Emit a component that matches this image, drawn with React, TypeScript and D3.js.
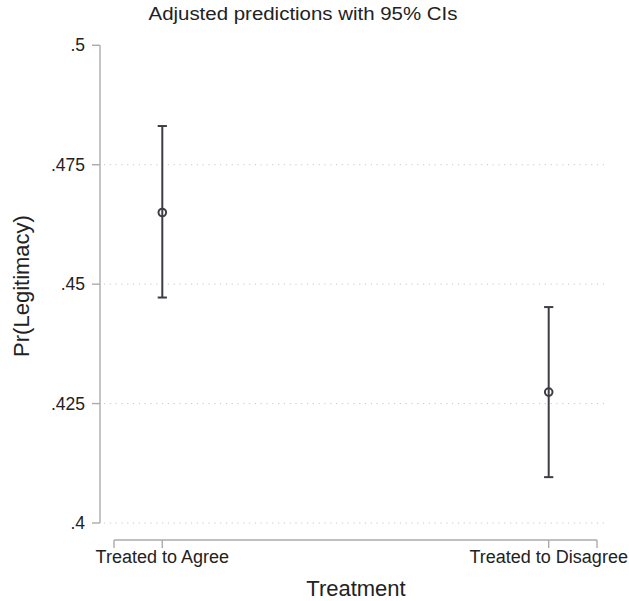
import React from "react";
import * as d3 from "d3";

const categories = ["Treated to Agree", "Treated to Disagree"];
const categoryPositions = [1, 2];
const estimates = [0.465, 0.4274];
const lowerCI = [0.4472, 0.4096];
const upperCI = [0.4831, 0.4452];
const yTicks = [0.4, 0.425, 0.45, 0.475, 0.5];
const yTickLabels = [".4", ".425", ".45", ".475", ".5"];
const gridTicks = [0.4, 0.425, 0.45, 0.475];
const xEndTicks = [0.875, 2.125];

const W = 629;
const H = 601;

export default function App() {
  const x = d3.scaleLinear().domain([0.875, 2.125]).range([114, 597]);
  const y = d3.scaleLinear().domain([0.4, 0.5]).range([523, 45.3]);
  const axisColor = "#ababab";
  const markColor = "#3d3d45";
  const textColor = "#222";
  const font = "'Liberation Sans', Arial, Helvetica, sans-serif";
  const xAxisY = 540;
  const yAxisX = 100;
  const capHalf = 4.6;

  return (
    <svg
      width={W}
      height={H}
      style={{ position: "absolute", left: 0, top: 0, background: "#fff" }}
      fontFamily={font}
    >
      <rect x={0} y={0} width={W} height={H} fill="#fff" />
      {/* title */}
      <text x={303} y={20} textAnchor="middle" fontSize={18} fill={textColor} textLength={309} lengthAdjust="spacingAndGlyphs">
        Adjusted predictions with 95% CIs
      </text>

      {/* grid lines */}
      {gridTicks.map((t) => (
        <line
          key={"g" + t}
          x1={104}
          x2={608}
          y1={y(t)}
          y2={y(t)}
          stroke="#c8c8c8"
          strokeWidth={1}
          strokeDasharray="1.2 4.6"
        />
      ))}

      {/* y axis */}
      <line x1={yAxisX} x2={yAxisX} y1={y(0.5)} y2={y(0.4)} stroke={axisColor} strokeWidth={1.4} />
      {yTicks.map((t, i) => (
        <g key={"yt" + t}>
          <line x1={92} x2={yAxisX} y1={y(t)} y2={y(t)} stroke={axisColor} strokeWidth={1.4} />
          <text x={85} y={y(t) + 6} textAnchor="end" fontSize={17.5} fill={textColor}>
            {yTickLabels[i]}
          </text>
        </g>
      ))}
      <text
        transform={`translate(29,286) rotate(-90)`}
        textAnchor="middle"
        fontSize={22}
        fill={textColor}
      >
        Pr(Legitimacy)
      </text>

      {/* x axis */}
      <line x1={x(0.875)} x2={x(2.125)} y1={xAxisY} y2={xAxisY} stroke={axisColor} strokeWidth={1.4} />
      {xEndTicks.map((t) => (
        <line key={"xe" + t} x1={x(t)} x2={x(t)} y1={xAxisY} y2={548} stroke={axisColor} strokeWidth={1.4} />
      ))}
      {categoryPositions.map((p, i) => (
        <g key={"xt" + p}>
          <line x1={x(p)} x2={x(p)} y1={xAxisY} y2={548} stroke={axisColor} strokeWidth={1.4} />
          <text x={x(p)} y={563} textAnchor="middle" fontSize={18} fill={textColor}>
            {categories[i]}
          </text>
        </g>
      ))}
      <text x={356} y={596} textAnchor="middle" fontSize={22} fill={textColor}>
        Treatment
      </text>

      {/* CIs and points */}
      {categoryPositions.map((p, i) => (
        <g key={"m" + p} stroke={markColor} strokeWidth={2} fill="none">
          <line x1={x(p)} x2={x(p)} y1={y(lowerCI[i])} y2={y(upperCI[i])} />
          <line x1={x(p) - capHalf} x2={x(p) + capHalf} y1={y(lowerCI[i])} y2={y(lowerCI[i])} />
          <line x1={x(p) - capHalf} x2={x(p) + capHalf} y1={y(upperCI[i])} y2={y(upperCI[i])} />
          <circle cx={x(p)} cy={y(estimates[i])} r={3.8} fill="none" />
        </g>
      ))}
    </svg>
  );
}
